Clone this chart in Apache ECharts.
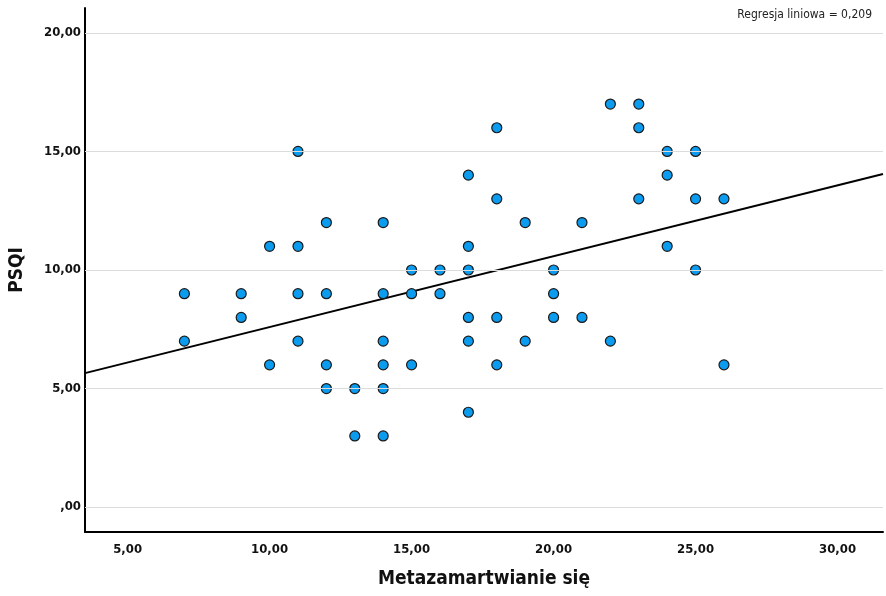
<!DOCTYPE html>
<html>
<head>
<meta charset="utf-8">
<script src="https://cdn.jsdelivr.net/npm/echarts@6/dist/echarts.min.js"></script>
<style>
  html, body { margin: 0; padding: 0; background: #fff; }
  #chart { width: 886px; height: 596px; }
</style>
</head>
<body>
<div id="chart"></div>
<script>
// Metazamartwianie się (x) vs PSQI (y)
const xValues = [7, 7, 9, 9, 10, 10, 11, 11, 11, 11, 12, 12, 12, 12, 13, 13,
  14, 14, 14, 14, 14, 14, 15, 15, 15, 16, 16, 17, 17, 17, 17, 17, 17,
  18, 18, 18, 18, 19, 19, 20, 20, 20, 21, 21, 22, 22, 23, 23, 23,
  24, 24, 24, 25, 25, 25, 26, 26];
const yValues = [9, 7, 9, 8, 11, 6, 15, 11, 9, 7, 12, 9, 6, 5, 5, 3,
  12, 9, 7, 6, 5, 3, 10, 9, 6, 10, 9, 14, 11, 10, 8, 7, 4,
  16, 13, 8, 6, 12, 7, 10, 9, 8, 12, 8, 17, 7, 17, 16, 13,
  15, 14, 11, 15, 13, 10, 13, 6];
// fit line (ends at the plot edges)
const fitX = [3.5, 31.6];
const fitY = [5.65, 14.05];
const yTicks = [0, 5, 10, 15, 20];
const fitLabel = 'Regresja liniowa = 0,209';

const points = xValues.map((x, i) => [x, yValues[i]]);
const font = '"Liberation Sans Narrow", "DejaVu Sans Condensed", Roboto, sans-serif';

function fmt(v) {
  if (Math.abs(v % 5) > 1e-9) return '';
  if (v === 0) return ',00';
  return v.toFixed(2).replace('.', ',');
}

const chart = echarts.init(document.getElementById('chart'));
const option = {
  animation: false,
  backgroundColor: '#fff',
  grid: { left: 83, right: 0, top: 8, bottom: 64 },
  xAxis: {
    type: 'value',
    min: 3.5,
    max: 31.6,
    name: 'Metazamartwianie się',
    nameLocation: 'middle',
    nameGap: 38,
    nameTextStyle: { fontFamily: font, fontWeight: 'bold', fontSize: 19, color: '#111' },
    axisLine: { onZero: false, lineStyle: { color: '#000', width: 2 } },
    axisTick: { show: false },
    splitLine: { show: false },
    axisLabel: { formatter: fmt, margin: 11, fontFamily: font, fontWeight: 'bold', fontSize: 13, color: '#111' }
  },
  yAxis: {
    type: 'value',
    min: -1.05,
    max: 21.05,
    name: 'PSQI',
    nameLocation: 'middle',
    nameGap: 58,
    nameTextStyle: { fontFamily: font, fontWeight: 'bold', fontSize: 19, color: '#111' },
    axisLine: { show: true, onZero: false, lineStyle: { color: '#000', width: 2 } },
    axisTick: { show: false },
    splitLine: { show: false },
    axisLabel: { formatter: fmt, margin: 4, fontFamily: font, fontWeight: 'bold', fontSize: 13, color: '#111' }
  },
  series: [
    {
      type: 'line',
      data: [],
      silent: true,
      markLine: {
        silent: true,
        symbol: 'none',
        label: { show: false },
        lineStyle: { color: '#dcdcdc', width: 1, type: 'solid' },
        data: yTicks.map(v => ({ yAxis: v }))
      }
    },
    {
      type: 'line',
      data: fitX.map((x, i) => [x, fitY[i]]),
      symbol: 'none',
      lineStyle: { color: '#000', width: 2 },
      z: 3
    },
    {
      type: 'scatter',
      data: points,
      symbolSize: 10,
      itemStyle: { color: '#0b9cf0', borderColor: '#1a1a1a', borderWidth: 1.2, opacity: 1 },
      z: 4
    }
  ],
  graphic: [
    {
      type: 'text',
      right: 14,
      top: 9,
      style: { text: fitLabel, fontFamily: font, fontSize: 12, fill: '#222' }
    }
  ]
};
option && chart.setOption(option);
</script>
</body>
</html>
